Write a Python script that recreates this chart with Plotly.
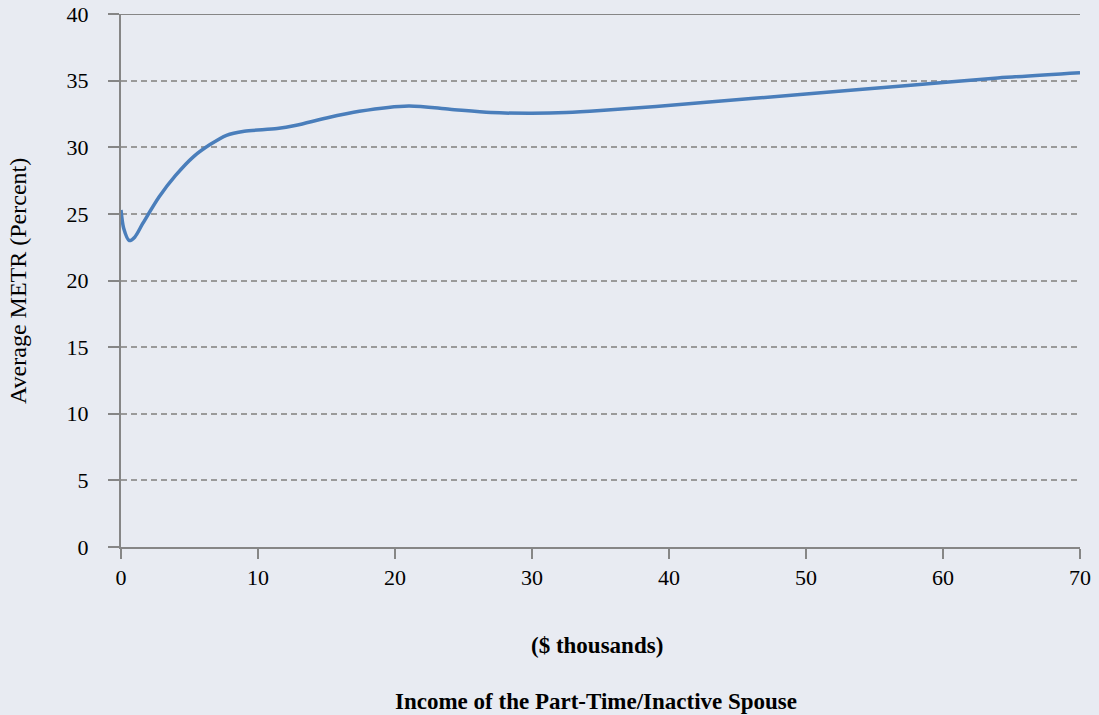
import plotly.graph_objects as go

# Data
income_k = [0, 0.2, 0.6, 1.0, 1.6, 2.8, 4.0, 5.3, 6.5, 7.7, 9.0, 11.4, 12.8, 15.0,
            17.4, 21.0, 24.0, 27.0, 30.0, 32.5, 35.0, 42.5, 50.0, 57.0, 64.0, 70.0]
avg_metr = [25.3, 23.9, 23.0, 23.25, 24.3, 26.3, 27.9, 29.3, 30.2, 30.9, 31.2, 31.4,
            31.65, 32.2, 32.7, 33.1, 32.85, 32.6, 32.55, 32.6, 32.75, 33.35, 34.0,
            34.6, 35.2, 35.6]
x_ticks = [0, 10, 20, 30, 40, 50, 60, 70]
y_ticks = [0, 5, 10, 15, 20, 25, 30, 35, 40]

BG = "#e8ebf2"
AXIS = "#868686"
FONT = "Liberation Serif"

fig = go.Figure()
fig.add_trace(go.Scatter(
    x=income_k, y=avg_metr, mode="lines",
    line=dict(color="#4a7ebb", width=3.5, shape="spline", smoothing=0.8),
    hoverinfo="x+y", showlegend=False,
))

fig.update_layout(
    width=1099, height=715,
    paper_bgcolor=BG, plot_bgcolor=BG,
    margin=dict(l=121, r=19, t=14, b=168),
    font=dict(family=FONT, size=22, color="#000000"),
    xaxis=dict(
        range=[0, 70], tickvals=x_ticks, ticktext=[str(v) for v in x_ticks],
        showgrid=False, zeroline=False, automargin=False,
        showline=True, linecolor=AXIS, linewidth=2,
        ticks="outside", ticklen=10, tickwidth=2, tickcolor=AXIS,
        tickfont=dict(family=FONT, size=22), ticklabelstandoff=0,
    ),
    yaxis=dict(
        range=[0, 40], tickvals=y_ticks, ticktext=[str(v) for v in y_ticks],
        showgrid=True, gridcolor="#9a9a9a", gridwidth=1.5, griddash="6px,4px",
        zeroline=False, automargin=False,
        showline=True, linecolor=AXIS, linewidth=2,
        ticks="outside", ticklen=11, tickwidth=2, tickcolor=AXIS,
        tickfont=dict(family=FONT, size=22), ticklabelstandoff=15,
    ),
    shapes=[dict(type="line", xref="paper", yref="y", x0=-11 / 959, x1=1, y0=40, y1=40,
                 line=dict(color=AXIS, width=2), layer="above")],
    annotations=[
        dict(text="<b>($ thousands)</b>", xref="paper", yref="paper", x=0.496, y=-0.184,
             showarrow=False, xanchor="center", yanchor="middle",
             font=dict(family=FONT, size=23)),
        dict(text="<b>Income of the Part-Time/Inactive Spouse</b>", xref="paper", yref="paper",
             x=0.495, y=-0.29, showarrow=False, xanchor="center", yanchor="middle",
             font=dict(family=FONT, size=23)),
        dict(text="Average METR (Percent)", xref="paper", yref="paper", x=-0.108, y=0.5,
             textangle=-90, showarrow=False, xanchor="center", yanchor="middle",
             font=dict(family=FONT, size=24)),
    ],
)

fig.write_html(
    "out.html",
    config={"displayModeBar": False},
    post_script="document.body.style.margin='0';document.body.style.background='#e8ebf2';",
)
